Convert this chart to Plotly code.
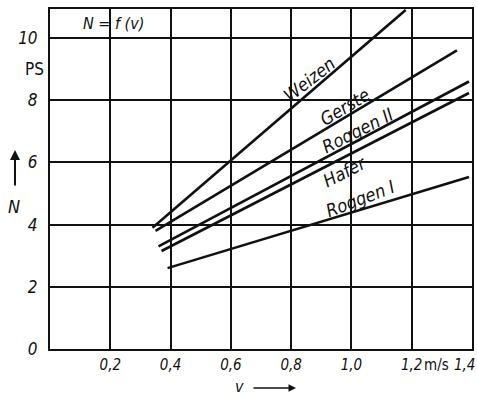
import plotly.graph_objects as go

# Data: N in PS vs v in m/s
series_names = ["Weizen", "Gerste", "Roggen II", "Hafer", "Roggen I"]
v_start = [0.34, 0.35, 0.36, 0.37, 0.39]
v_end = [1.18, 1.35, 1.39, 1.39, 1.39]
n_start = [3.9, 3.8, 3.3, 3.15, 2.6]
n_end = [10.9, 9.6, 8.6, 8.23, 5.53]

# line label positions (data coords) and angles
label_v = [0.86, 0.98, 1.02, 0.978, 1.03]
label_n = [8.65, 7.78, 7.04, 5.7, 4.85]
label_angle = [-38, -31, -27, -27, -21]

x_tickvals = [0.2, 0.4, 0.6, 0.8, 1.0, 1.2]
x_ticktext = ["0,2", "0,4", "0,6", "0,8", "1,0", "1,2"]
x_last_tick = 1.4
x_last_text = "1,4"
y_tickvals = [0, 2, 4, 6, 8, 10]
y_ticktext = ["0", "2", "4", "6", "8", "10"]

FONT = "DejaVu Sans Condensed"
ink = "#111111"
xtickfont = dict(family=FONT, size=15, color=ink, style="italic")
ytickfont = dict(family=FONT, size=17, color=ink, style="italic")

fig = go.Figure()
for i, name in enumerate(series_names):
    fig.add_trace(go.Scatter(
        x=[v_start[i], v_end[i]], y=[n_start[i], n_end[i]],
        mode="lines", line=dict(color=ink, width=2.6), name=name,
        showlegend=False, hoverinfo="skip"))
    fig.add_annotation(x=label_v[i], y=label_n[i], xref="x", yref="y",
                       text=name, showarrow=False, textangle=label_angle[i],
                       font=dict(family=FONT, size=18, color=ink, style="italic"))

# title box text
fig.add_annotation(x=0.21, y=10.47, xref="x", yref="y", text="N = f (v)",
                   showarrow=False,
                   font=dict(family=FONT, size=16, color=ink, style="italic"))
# last x tick label, kept inside the page
fig.add_annotation(x=x_last_tick, y=-0.047, xref="x", yref="paper",
                   text=x_last_text, showarrow=False, xanchor="right",
                   yanchor="middle", xshift=5, font=xtickfont)
# unit labels
fig.add_annotation(x=-0.037, y=9.0, xref="paper", yref="y", text="PS",
                   showarrow=False, xanchor="center", yanchor="middle",
                   font=dict(family=FONT, size=17, color=ink))
fig.add_annotation(x=1.283, y=-0.047, xref="x", yref="paper", text="m/s",
                   showarrow=False, xanchor="center", yanchor="middle",
                   font=dict(family=FONT, size=15, color=ink))
# axis titles with arrows
fig.add_annotation(x=-0.086, y=0.42, xref="paper", yref="paper", text="N",
                   showarrow=False, xanchor="center", yanchor="middle",
                   font=dict(family=FONT, size=18, color=ink, style="italic"))
fig.add_annotation(x=-0.083, y=0.585, xref="paper", yref="paper", text="",
                   showarrow=True, ax=0, ay=37, arrowhead=2, arrowsize=1,
                   arrowwidth=2, arrowcolor=ink)
fig.add_annotation(x=0.45, y=-0.109, xref="paper", yref="paper", text="v",
                   showarrow=False, xanchor="center", yanchor="middle",
                   font=dict(family=FONT, size=16, color=ink, style="italic"))
fig.add_annotation(x=0.583, y=-0.115, xref="paper", yref="paper", text="",
                   showarrow=True, ax=-44, ay=0, arrowhead=2, arrowsize=1,
                   arrowwidth=1.5, arrowcolor=ink)

fig.update_layout(
    width=477, height=395,
    margin=dict(l=50, r=5, t=9, b=46, autoexpand=False),
    paper_bgcolor="white", plot_bgcolor="white",
    font=dict(family=FONT, size=17, color=ink),
    xaxis=dict(range=[0, 1.4], tickvals=x_tickvals, ticktext=x_ticktext,
               showgrid=True, gridcolor=ink, gridwidth=1.5,
               showline=True, linecolor=ink, linewidth=2, mirror=True,
               zeroline=False, ticks="", ticklabelstandoff=1, automargin=False,
               tickfont=xtickfont),
    yaxis=dict(range=[0, 10.93], tickvals=y_tickvals, ticktext=y_ticktext,
               showgrid=True, gridcolor=ink, gridwidth=1.5,
               showline=True, linecolor=ink, linewidth=2, mirror=True,
               zeroline=False, ticks="", ticklabelstandoff=7, automargin=False,
               tickfont=ytickfont),
)

fig.write_html(
    "out.html",
    config={"displayModeBar": False},
    post_script="document.body.style.margin='0';document.body.style.padding='0';"
                "document.body.style.overflow='hidden';",
)
